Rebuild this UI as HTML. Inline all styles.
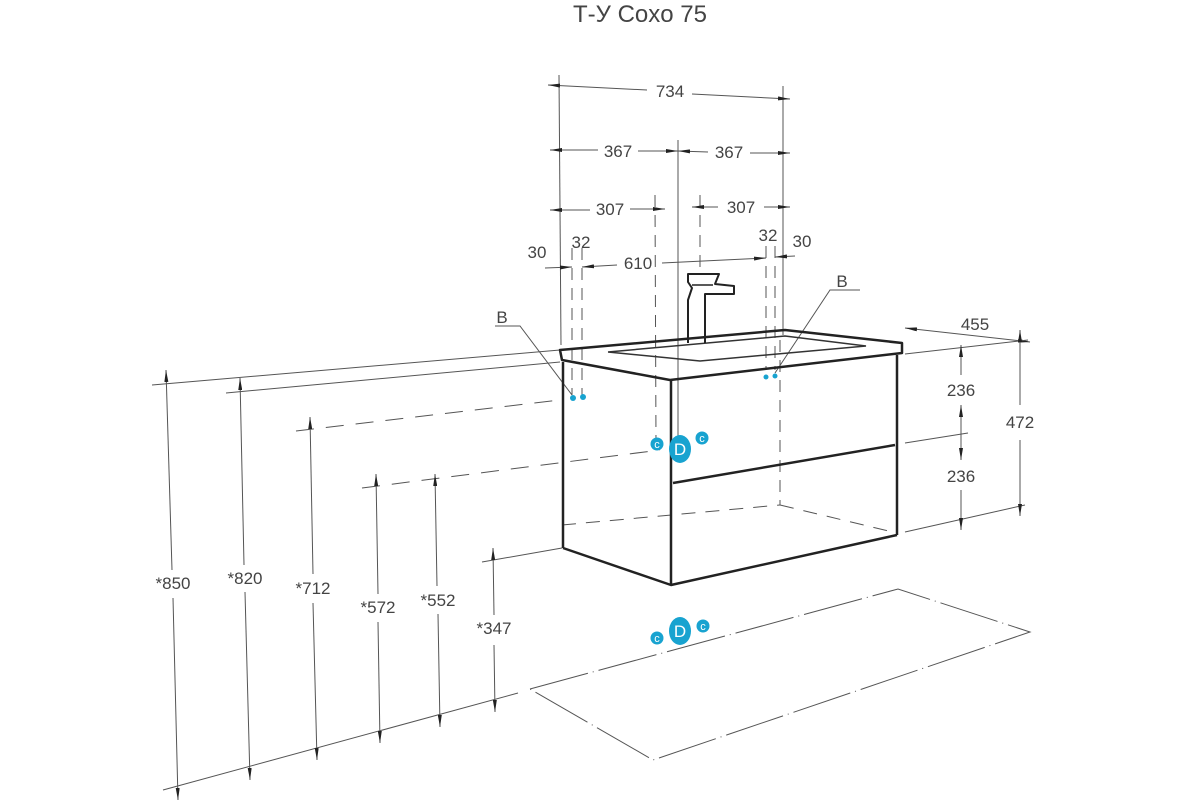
<!DOCTYPE html>
<html><head><meta charset="utf-8"><style>
body{margin:0;background:#fff}
svg{display:block}
text{font-family:"Liberation Sans",sans-serif;fill:#444;font-size:17px}
</style></head><body>
<svg width="1200" height="800" viewBox="0 0 1200 800">
<defs><marker id="a" viewBox="0 0 12 4" refX="12" refY="2" markerWidth="12" markerHeight="4" orient="auto-start-reverse" markerUnits="userSpaceOnUse"><path d="M0,0L12,2L0,4z" fill="#222"/></marker></defs>
<text x="640" y="22" text-anchor="middle" style="font-size:24px">Т-У Coxo 75</text>
<g stroke="#555" stroke-width="1" fill="none">
<line x1="559" y1="75" x2="561" y2="345"/>
<line x1="783" y1="86" x2="783" y2="335"/>
<line x1="678" y1="140" x2="678" y2="440"/>
<line x1="655" y1="195" x2="656" y2="445" stroke-dasharray="12 8"/>
<line x1="700" y1="195" x2="700" y2="270" stroke-dasharray="12 8"/>
<line x1="572" y1="248" x2="572" y2="395" stroke-dasharray="12 8"/>
<line x1="582" y1="248" x2="582" y2="395" stroke-dasharray="12 8"/>
<line x1="766" y1="246" x2="766" y2="370" stroke-dasharray="12 8"/>
<line x1="775" y1="246" x2="775" y2="370" stroke-dasharray="12 8"/>
<line x1="780" y1="340" x2="780" y2="505" stroke-dasharray="12 8"/>
<line x1="548" y1="85" x2="647" y2="90" marker-start="url(#a)"/>
<line x1="692" y1="94" x2="790" y2="99" marker-end="url(#a)"/>
<line x1="550" y1="150" x2="598" y2="150" marker-start="url(#a)"/>
<line x1="638" y1="151" x2="678" y2="151" marker-end="url(#a)"/>
<line x1="678" y1="151" x2="708" y2="152" marker-start="url(#a)"/>
<line x1="750" y1="153" x2="790" y2="153" marker-end="url(#a)"/>
<line x1="550" y1="210" x2="590" y2="210" marker-start="url(#a)"/>
<line x1="630" y1="209" x2="665" y2="209" marker-end="url(#a)" />
<line x1="692" y1="207" x2="718" y2="207" marker-start="url(#a)"/>
<line x1="764" y1="207" x2="790" y2="207" marker-end="url(#a)"/>
<line x1="545" y1="268" x2="572" y2="267" marker-end="url(#a)"/>
<line x1="582" y1="267" x2="617" y2="265" marker-start="url(#a)"/>
<line x1="662" y1="263" x2="766" y2="258" marker-end="url(#a)"/>
<line x1="775" y1="257" x2="795" y2="256" marker-start="url(#a)"/>
<line x1="152" y1="385" x2="560" y2="350"/>
<line x1="226" y1="393" x2="560" y2="362"/>
<line x1="296" y1="431" x2="560" y2="400" stroke-dasharray="18 12"/>
<line x1="362" y1="488" x2="660" y2="450" stroke-dasharray="18 12"/>
<line x1="482" y1="562" x2="562" y2="548"/>
<line x1="163" y1="790" x2="518" y2="693"/>
<line x1="166" y1="370" x2="172" y2="570" marker-start="url(#a)"/>
<line x1="173" y1="598" x2="178" y2="800" marker-end="url(#a)"/>
<line x1="240" y1="378" x2="244" y2="565" marker-start="url(#a)"/>
<line x1="245" y1="592" x2="250" y2="780" marker-end="url(#a)"/>
<line x1="310" y1="417" x2="313" y2="574" marker-start="url(#a)"/>
<line x1="313" y1="603" x2="317" y2="760" marker-end="url(#a)"/>
<line x1="376" y1="474" x2="378" y2="594" marker-start="url(#a)"/>
<line x1="378" y1="622" x2="380" y2="743" marker-end="url(#a)"/>
<line x1="435" y1="474" x2="437" y2="586" marker-start="url(#a)"/>
<line x1="438" y1="614" x2="440" y2="727" marker-end="url(#a)"/>
<line x1="493" y1="548" x2="494" y2="615" marker-start="url(#a)"/>
<line x1="494" y1="645" x2="495" y2="712" marker-end="url(#a)"/>
<line x1="905" y1="328" x2="1030" y2="342" marker-start="url(#a)" marker-end="url(#a)"/>
<line x1="905" y1="354" x2="1028" y2="340"/>
<line x1="905" y1="443" x2="968" y2="433"/>
<line x1="905" y1="532" x2="1025" y2="505"/>
<line x1="961" y1="345" x2="961" y2="375" marker-start="url(#a)"/>
<line x1="961" y1="405" x2="961" y2="460" marker-start="url(#a)" marker-end="url(#a)"/>
<line x1="961" y1="490" x2="961" y2="530" marker-end="url(#a)"/>
<line x1="1020" y1="330" x2="1020" y2="405" marker-start="url(#a)"/>
<line x1="1020" y1="440" x2="1020" y2="516" marker-end="url(#a)"/>
<polyline points="495,326 520,326 572,395"/>
<polyline points="860,290 830,290 775,373"/>
<polygon points="530,689 898,589 1030,632 653,760" stroke-dasharray="60 5 1 5"/>
<polyline points="608,352 785,336 866,346 700,361 608,352" stroke="#333" stroke-width="1.5"/>
<line x1="562" y1="525" x2="780" y2="505" stroke-dasharray="14 10"/>
<line x1="780" y1="505" x2="897" y2="533" stroke-dasharray="14 10"/>
</g>
<g fill="none" stroke="#222" stroke-width="2.5" stroke-linejoin="round">
<polygon points="560,350 785,330 902,343 902,353 670,380 562,360"/>
<line x1="563" y1="362" x2="563" y2="548"/>
<line x1="671" y1="380" x2="671" y2="585"/>
<line x1="897" y1="355" x2="897" y2="535"/>
<polyline points="563,548 671,585 897,535"/>
<line x1="673" y1="483" x2="895" y2="445"/>
<path d="M688,343 L688,300 L692,288 L688,282 L688,274 L719,274 L715,284 L734,286 L734,294 L705,294 L705,343" stroke-width="2"/>
<path d="M692,285 L713,285" stroke-width="1.5"/>
</g>
<g fill="#18a3d0">
<circle cx="573" cy="398" r="3"/><circle cx="583" cy="397" r="3"/>
<circle cx="766" cy="377" r="2.5"/><circle cx="775" cy="376" r="2.5"/>
<ellipse cx="680" cy="449" rx="11" ry="14"/><circle cx="657" cy="444" r="6.5"/><circle cx="702" cy="438" r="6.5"/>
<ellipse cx="680" cy="631" rx="11" ry="14"/><circle cx="657" cy="638" r="6.5"/><circle cx="703" cy="626" r="6.5"/>
</g>
<g>
<text x="680" y="455" text-anchor="middle" style="fill:#fff;font-size:17px">D</text>
<text x="657" y="448" text-anchor="middle" style="fill:#fff;font-size:11px">c</text>
<text x="702" y="442" text-anchor="middle" style="fill:#fff;font-size:11px">c</text>
<text x="680" y="637" text-anchor="middle" style="fill:#fff;font-size:17px">D</text>
<text x="657" y="642" text-anchor="middle" style="fill:#fff;font-size:11px">c</text>
<text x="703" y="630" text-anchor="middle" style="fill:#fff;font-size:11px">c</text>
</g>
<g text-anchor="middle">
<text x="670" y="97">734</text>
<text x="618" y="157">367</text>
<text x="729" y="158">367</text>
<text x="610" y="215">307</text>
<text x="741" y="213">307</text>
<text x="638" y="269">610</text>
<text x="537" y="258">30</text>
<text x="581" y="248">32</text>
<text x="768" y="241">32</text>
<text x="802" y="247">30</text>
<text x="502" y="323">B</text>
<text x="842" y="287">B</text>
<text x="975" y="330">455</text>
<text x="961" y="396">236</text>
<text x="961" y="482">236</text>
<text x="1020" y="428">472</text>
<text x="173" y="589">*850</text>
<text x="245" y="584">*820</text>
<text x="313" y="594">*712</text>
<text x="378" y="613">*572</text>
<text x="438" y="606">*552</text>
<text x="494" y="634">*347</text>
</g>
</svg>
</body></html>
